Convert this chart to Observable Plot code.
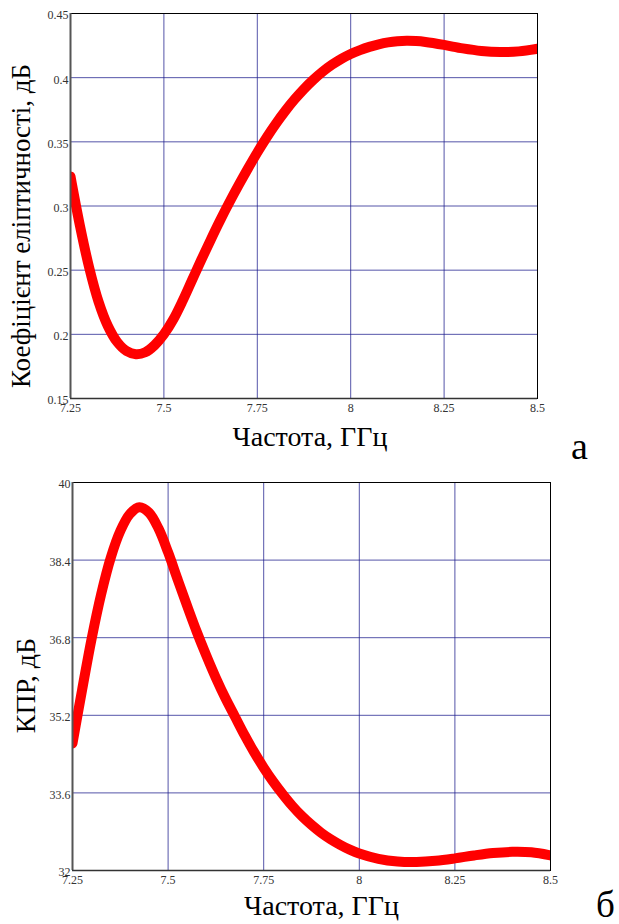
<!DOCTYPE html>
<html>
<head>
<meta charset="utf-8">
<script src="https://cdn.jsdelivr.net/npm/d3@7"></script>
<script src="https://cdn.jsdelivr.net/npm/@observablehq/plot@0.6"></script>
<style>
  html, body { margin: 0; padding: 0; background: #fff; }
  #wrap { position: relative; width: 619px; height: 924px; overflow: hidden; }
  .panel { position: absolute; left: 0; }
  .tag { position: absolute; font-family: "Liberation Serif", serif; color: #000; line-height: 1; }
</style>
</head>
<body>
<div id="wrap">
  <div id="pa" class="panel" style="top:0px"></div>
  <div id="pb" class="panel" style="top:470px"></div>
  <div class="tag" style="left:571px; top:427px; font-size:38px;">а</div>
  <div class="tag" style="left:596px; top:886px; font-size:37px;">б</div>
</div>
<script>
// Chart а: ellipticity coefficient vs frequency
const freqA = [7.25, 7.275, 7.3, 7.325, 7.35, 7.375, 7.4, 7.425, 7.45, 7.475, 7.5, 7.525, 7.55, 7.575, 7.6, 7.625, 7.65, 7.675, 7.7, 7.725, 7.75, 7.775, 7.8, 7.825, 7.85, 7.875, 7.9, 7.925, 7.95, 7.975, 8.0, 8.025, 8.05, 8.075, 8.1, 8.125, 8.15, 8.175, 8.2, 8.25, 8.3, 8.35, 8.4, 8.45, 8.5];
const kellA = [0.323, 0.285, 0.252, 0.2255, 0.2065, 0.194, 0.187, 0.1845, 0.186, 0.1915, 0.2, 0.2115, 0.226, 0.242, 0.258, 0.2735, 0.2885, 0.3027, 0.3162, 0.3292, 0.3417, 0.3534, 0.3642, 0.3741, 0.3831, 0.3912, 0.3984, 0.4047, 0.4101, 0.4147, 0.4185, 0.4215, 0.424, 0.426, 0.4275, 0.4284, 0.4287, 0.4285, 0.4278, 0.4255, 0.4228, 0.4208, 0.42, 0.4205, 0.4225];
const yTicksA = [0.15, 0.2, 0.25, 0.3, 0.35, 0.4, 0.45];

// Chart б: cross-polarization ratio vs frequency
const freqB = [7.25, 7.275, 7.3, 7.325, 7.35, 7.375, 7.4, 7.425, 7.45, 7.475, 7.5, 7.525, 7.55, 7.575, 7.6, 7.625, 7.65, 7.675, 7.7, 7.725, 7.75, 7.775, 7.8, 7.825, 7.85, 7.875, 7.9, 7.925, 7.95, 7.975, 8.0, 8.05, 8.1, 8.15, 8.2, 8.25, 8.3, 8.35, 8.4, 8.45, 8.5];
const kprB = [34.62, 35.72, 36.78, 37.7, 38.45, 39.0, 39.35, 39.49, 39.38, 39.05, 38.56, 38.0, 37.45, 36.92, 36.43, 35.97, 35.55, 35.17, 34.79, 34.44, 34.12, 33.83, 33.57, 33.33, 33.12, 32.94, 32.78, 32.645, 32.53, 32.43, 32.35, 32.24, 32.185, 32.175, 32.2, 32.25, 32.31, 32.36, 32.385, 32.375, 32.31];
const yTicksB = [32, 33.6, 35.2, 36.8, 38.4, 40];

const xTicks = [7.25, 7.5, 7.75, 8, 8.25, 8.5];
const xTickLabels = ["7.25", "7.5", "7.75", "8", "8.25", "8.5"];
const xTitle = "Частота, ГГц";
const yTitleA = "Коефіцієнт еліптичності, дБ";
const yTitleB = "КПР, дБ";

const serif = "Liberation Serif";
const gridColor = "#1c1c8c";

function fmt(d) { return String(+d.toFixed(2)); }

function makeChart({freq, vals, yDomain, yTicks, yTitle, height, margins, yTitleDx, yTitleDy, yTitleSize, xTitleDx, xTitleDy}) {
  const data = freq.map((f, i) => ({f, v: vals[i]}));
  return Plot.plot({
    width: 619,
    height,
    marginLeft: margins[0], marginRight: margins[1], marginTop: margins[2], marginBottom: margins[3],
    style: {fontFamily: serif, background: "white", overflow: "visible"},
    x: {domain: [7.25, 8.5]},
    y: {domain: yDomain},
    marks: [
      Plot.gridX(xTicks, {stroke: gridColor, strokeOpacity: 0.75, strokeWidth: 1}),
      Plot.gridY(yTicks, {stroke: gridColor, strokeOpacity: 0.75, strokeWidth: 1}),
      Plot.line(data, {x: "f", y: "v", stroke: "#ff0000", strokeWidth: 10, curve: "catmull-rom", clip: true}),
      Plot.frame({stroke: "#000", strokeWidth: 1}),
      Plot.ruleX([7.25], {stroke: "#555", strokeWidth: 2}),
      Plot.ruleY([yDomain[0]], {stroke: "#333", strokeWidth: 1.5}),
      Plot.axisX(xTicks, {tickSize: 0, tickPadding: 5, tickFormat: (d, i) => xTickLabels[i], fontSize: 12, fontFamily: serif, fill: "#333", label: null}),
      Plot.axisY(yTicks, {tickSize: 0, tickPadding: 2, tickFormat: fmt, fontSize: 12, fontFamily: serif, fill: "#333", label: null, dy: 2}),
      Plot.text([xTitle], {frameAnchor: "bottom", text: d => d, dx: xTitleDx, dy: xTitleDy, fontSize: 28, fontFamily: serif, fill: "#000"}),
      Plot.text([yTitle], {frameAnchor: "left", textAnchor: "middle", text: d => d, rotate: -90, dx: yTitleDx, dy: yTitleDy, fontSize: yTitleSize, fontFamily: serif, fill: "#000"})
    ]
  });
}

document.getElementById("pa").append(makeChart({
  freq: freqA, vals: kellA, yDomain: [0.15, 0.45], yTicks: yTicksA, yTitle: yTitleA,
  height: 470, margins: [70, 82, 13, 72], yTitleDx: -49, yTitleDy: 20, yTitleSize: 27, xTitleDx: 6, xTitleDy: 47
}));
document.getElementById("pb").append(makeChart({
  freq: freqB, vals: kprB, yDomain: [32, 40], yTicks: yTicksB, yTitle: yTitleB,
  height: 454, margins: [72, 69, 12, 54], yTitleDx: -46, yTitleDy: 9, yTitleSize: 28, xTitleDx: 10, xTitleDy: 44
}));
</script>
</body>
</html>
